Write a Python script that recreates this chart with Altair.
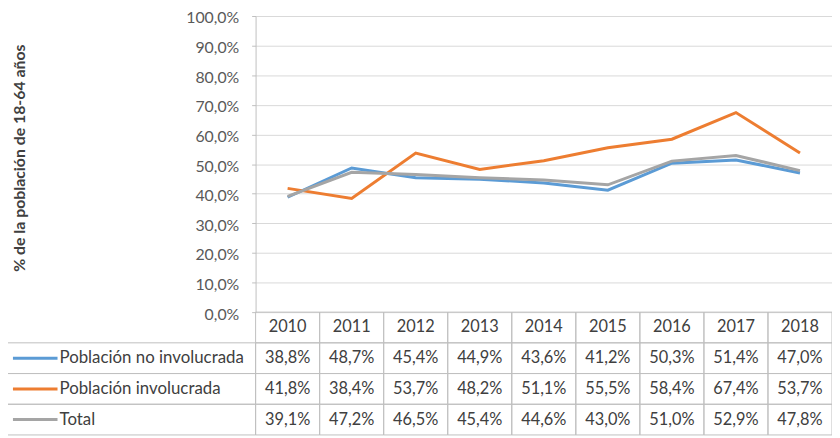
import altair as alt
import pandas as pd

# ---- data -------------------------------------------------------------
years = [2010, 2011, 2012, 2013, 2014, 2015, 2016, 2017, 2018]
series_names = ["Población no involucrada", "Población involucrada", "Total"]
no_involucrada = [38.8, 48.7, 45.4, 44.9, 43.6, 41.2, 50.3, 51.4, 47.0]
involucrada = [41.8, 38.4, 53.7, 48.2, 51.1, 55.5, 58.4, 67.4, 53.7]
total = [39.1, 47.2, 46.5, 45.4, 44.6, 43.0, 51.0, 52.9, 47.8]
colors = ["#5B9BD5", "#ED7D31", "#A5A5A5"]
y_ticks = [0, 10, 20, 30, 40, 50, 60, 70, 80, 90, 100]
y_title = "% de la población de 18-64 años"

HDR = "Año"
row_domain = [HDR] + series_names
FONT = "Lato"


def fmt(v):
    return f"{v:.1f}".replace(".", ",") + "%"


series_values = [no_involucrada, involucrada, total]
long = pd.DataFrame(
    [
        {"year": y, "series": s, "value": v, "row": s, "label": fmt(v)}
        for s, vals in zip(series_names, series_values)
        for y, v in zip(years, vals)
    ]
)
hdr = pd.DataFrame({"year": years, "row": HDR, "label": [str(y) for y in years]})
table = pd.concat([hdr, long[["year", "row", "label"]]], ignore_index=True)
legend_df = pd.DataFrame({"row": series_names, "series": series_names})

# ---- layout -----------------------------------------------------------
PLOT_H = 299
xs = alt.Scale(domain=[2009.5, 2018.5], nice=False, zero=False)
color_scale = alt.Scale(domain=series_names, range=colors)
row_scale = alt.Scale(type="band", domain=row_domain, range=[PLOT_H, PLOT_H + 124],
                      paddingInner=0, paddingOuter=0)
GRID = "#D9D9D9"
BORDER = "#BFBFBF"
TXT = "#404040"

y_axis = alt.Axis(
    values=y_ticks,
    labelExpr="replace(format(datum.value, '.1f'), '.', ',') + '%'",
    grid=True, gridColor=GRID, gridWidth=1,
    domainColor=BORDER, tickColor=BORDER, tickSize=4,
    labelPadding=13, labelColor="#595959", labelFont=FONT, labelFontSize=16,
    labelOffset=2,
    title=y_title, titleX=-238, titleY=143, titleAngle=-90,
    titleAlign="center", titleBaseline="middle",
    titleFont=FONT, titleFontSize=16, titleFontWeight="bold", titleColor=TXT,
)


def line_for(name):
    d = long[long["series"] == name]
    return alt.Chart(d).mark_line(strokeWidth=3).encode(
        x=alt.X("year:Q", scale=xs, axis=None),
        y=alt.Y("value:Q", scale=alt.Scale(domain=[0, 100], nice=False),
                axis=y_axis),
        color=alt.Color("series:N", scale=color_scale, legend=None),
    )


lines = alt.layer(*[line_for(n) for n in series_names])

row_y = alt.Y("row:N", scale=row_scale, axis=None)
row_yc = alt.Y("row:N", scale=row_scale, axis=None, bandPosition=0.5)

cells = alt.Chart(table).transform_calculate(
    x0="datum.year - 0.5", x1="datum.year + 0.5"
).mark_rect(fill="white", fillOpacity=0, stroke=BORDER, strokeWidth=1).encode(
    x=alt.X("x0:Q", scale=xs, axis=None),
    x2="x1:Q",
    y=row_y,
)

cell_text = alt.Chart(table).mark_text(
    font=FONT, fontSize=16.5, color=TXT, align="center", baseline="middle"
).encode(
    x=alt.X("year:Q", scale=xs, axis=None),
    y=row_yc,
    text="label:N",
)

legend_cells = alt.Chart(legend_df).mark_rect(
    fill="white", fillOpacity=0, stroke=BORDER, strokeWidth=1
).encode(x=alt.value(-252), x2=alt.value(0), y=row_y)

legend_lines = alt.Chart(legend_df).mark_rule(strokeWidth=3).encode(
    x=alt.value(-245), x2=alt.value(-200), y=row_yc,
    color=alt.Color("series:N", scale=color_scale, legend=None),
)

legend_text = alt.Chart(legend_df).mark_text(
    font=FONT, fontSize=17, color=TXT, align="left", baseline="middle"
).encode(x=alt.value(-198), y=row_yc, text="row:N")

chart = alt.layer(
    lines, cells, cell_text, legend_cells, legend_lines, legend_text
).resolve_scale(y="independent").properties(
    width=582, height=PLOT_H,
    autosize=alt.AutoSizeParams(type="none"),
    padding={"left": 250, "top": 6, "right": 0, "bottom": 125},
    background="white",
).configure_view(stroke=None)

chart.save("out.html", embed_options={"renderer": "svg", "actions": False})
